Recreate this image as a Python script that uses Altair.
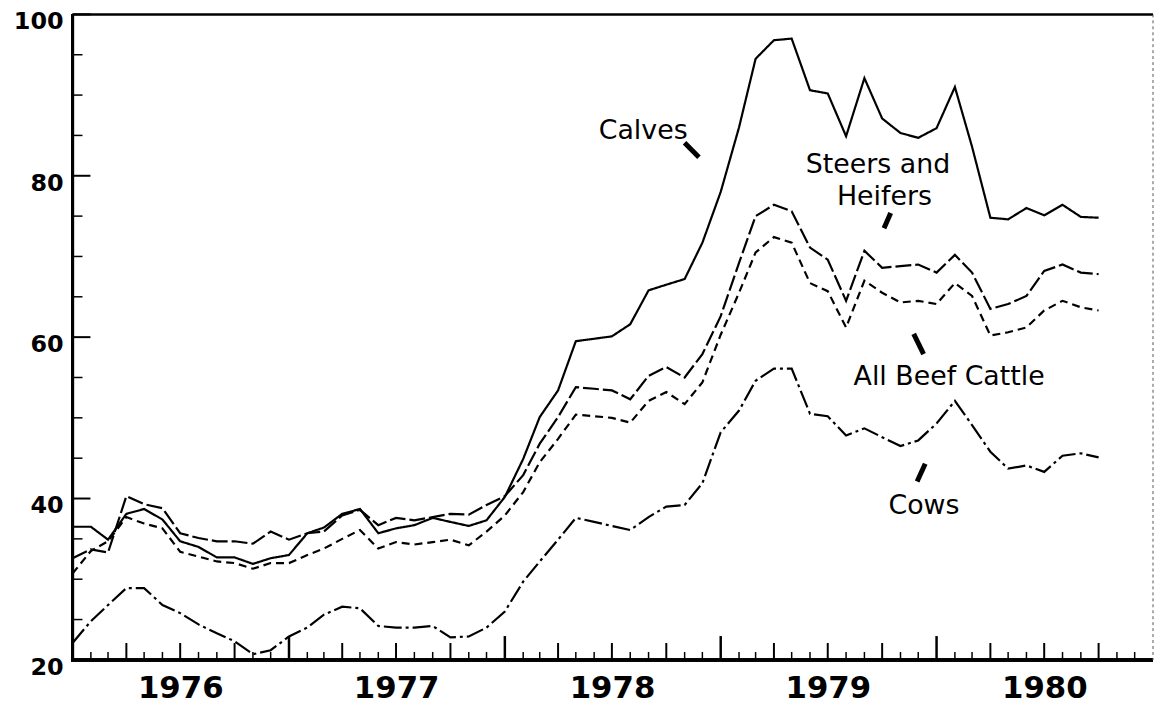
import altair as alt
import pandas as pd

# ---------------- data (monthly, Jan 1976 .. Oct 1980) ----------------
calves = [36.5, 36.5, 34.9, 38.1, 38.7, 37.4, 34.7, 34.0, 32.7, 32.7, 31.9, 32.6,
          33.0, 35.7, 36.4, 38.1, 38.7, 35.7, 36.3, 36.7, 37.6, 37.1, 36.6, 37.3,
          40.2, 44.9, 50.1, 53.4, 59.5, 59.8, 60.1, 61.6, 65.8, 66.5, 67.2, 71.7,
          78.0, 86.0, 94.5, 96.8, 97.0, 90.6, 90.2, 84.9, 92.1, 87.1, 85.3, 84.7,
          85.9, 91.0, 83.6, 74.8, 74.6, 76.0, 75.1, 76.4, 74.9, 74.8]
steers = [32.6, 33.7, 33.3, 40.3, 39.3, 38.8, 35.7, 35.1, 34.7, 34.7, 34.4, 35.9,
          34.9, 35.7, 35.9, 37.9, 38.6, 36.7, 37.6, 37.3, 37.7, 38.1, 38.0, 39.2,
          40.3, 42.9, 46.8, 50.1, 53.8, 53.6, 53.4, 52.3, 55.2, 56.3, 55.0, 57.9,
          62.6, 69.2, 75.0, 76.4, 75.6, 71.1, 69.6, 64.5, 70.7, 68.6, 68.8, 69.0,
          68.0, 70.2, 68.0, 63.5, 64.1, 65.1, 68.2, 69.0, 68.0, 67.8]
all_beef = [30.7, 33.5, 34.7, 37.7, 36.9, 36.3, 33.4, 32.8, 32.2, 32.0, 31.3, 32.0,
            32.0, 33.0, 33.8, 35.0, 36.1, 33.8, 34.6, 34.3, 34.6, 34.9, 34.2, 35.9,
            37.9, 40.8, 44.5, 47.4, 50.4, 50.2, 50.0, 49.4, 52.1, 53.2, 51.7, 54.4,
            60.3, 65.5, 70.5, 72.4, 71.7, 66.7, 65.7, 61.2, 67.0, 65.5, 64.3, 64.5,
            64.1, 66.7, 65.1, 60.2, 60.6, 61.2, 63.3, 64.5, 63.7, 63.3]
cows = [22.1, 24.8, 26.8, 28.9, 28.9, 26.8, 25.8, 24.4, 23.3, 22.3, 20.7, 21.2,
        22.9, 24.0, 25.6, 26.6, 26.4, 24.2, 24.0, 24.0, 24.2, 22.8, 22.9, 24.0,
        26.0, 29.7, 32.2, 34.9, 37.6, 37.1, 36.6, 36.1, 37.7, 39.0, 39.2, 41.9,
        48.2, 50.9, 54.6, 56.1, 56.1, 50.5, 50.2, 47.8, 48.7, 47.6, 46.5, 47.2,
        49.3, 52.1, 49.1, 45.8, 43.7, 44.1, 43.3, 45.3, 45.6, 45.1]

series_names = ["Calves", "Steers and Heifers", "All Beef Cattle", "Cows"]
series_dash = [[1, 0], [16, 4], [8, 5], [18, 4, 3, 4]]
years = [1976, 1977, 1978, 1979, 1980]
y_labels = [20, 40, 60, 80, 100]
y_minor = [25, 30, 35, 45, 50, 55, 65, 70, 75, 85, 90, 95]

# annotation labels (month index from Jan 1976, value)
ann_text = ["Calves", "Steers and", "Heifers", "All Beef Cattle", "Cows"]
ann_idx = [31.7, 44.75, 45.1, 48.7, 47.3]
ann_val = [85.5, 81.3, 77.4, 55.0, 39.1]
# pointer strokes
ptr_idx1 = [34.0, 45.45, 46.73, 47.37]
ptr_val1 = [84.1, 75.4, 60.4, 44.3]
ptr_idx2 = [34.8, 45.08, 47.28, 46.92]
ptr_val2 = [82.3, 73.5, 57.9, 42.1]

# ---------------- tables ----------------
start = pd.Timestamp("1976-01-01")
months = pd.date_range(start, periods=len(calves), freq="MS")
rows = []
for name, vals in zip(series_names, [calves, steers, all_beef, cows]):
    for d, v in zip(months, vals):
        rows.append({"date": d, "value": v, "series": name})
df = pd.DataFrame(rows)


def idx_to_date(i):
    return start + pd.Timedelta(days=i * 365.25 / 12)


ann_df = pd.DataFrame({"date": [idx_to_date(i) for i in ann_idx], "value": ann_val, "text": ann_text})
ptr_df = pd.DataFrame({
    "d1": [idx_to_date(i) for i in ptr_idx1], "v1": ptr_val1,
    "d2": [idx_to_date(i) for i in ptr_idx2], "v2": ptr_val2,
})

tick_dates = pd.date_range("1976-01-01", "1980-12-01", freq="MS")
tick_df = pd.DataFrame({"date": tick_dates})
tick_df["kind"] = ["year" if d.month == 1 else ("quarter" if d.month in (4, 7, 10) else "month")
                   for d in tick_dates]

year_df = pd.DataFrame({"date": [pd.Timestamp(year=y, month=7, day=2) for y in years],
                        "label": [str(y) for y in years]})
ylab_df = pd.DataFrame({"v": y_labels, "label": [str(v) for v in y_labels]})

W, H = 1088, 650

xscale = alt.Scale(domain=[alt.DateTime(year=1976, month=1, date=1),
                           alt.DateTime(year=1981, month=1, date=1)])
yscale = alt.Scale(domain=[20, 100], nice=False, zero=False)


def xt(field):
    return alt.X(field, type="temporal", scale=xscale, axis=None)


def yq(field):
    return alt.Y(field, type="quantitative", scale=yscale, axis=None)


lines = alt.Chart(df).mark_line(color="black", strokeWidth=2.2).encode(
    x=xt("date"),
    y=yq("value"),
    detail="series:N",
    strokeDash=alt.StrokeDash("series:N", scale=alt.Scale(domain=series_names, range=series_dash),
                              legend=None),
)

tick_layers = []
for kind, length, width in [("month", 8, 1.5), ("quarter", 17, 2), ("year", 24, 2.5)]:
    tick_layers.append(
        alt.Chart(tick_df[tick_df["kind"] == kind]).mark_rule(color="black", strokeWidth=width).encode(
            x=xt("date"), y=alt.value(H), y2=alt.value(H - length))
    )

ymaj = alt.Chart(ylab_df).mark_rule(color="black", strokeWidth=2).encode(
    y=yq("v"), x=alt.value(0), x2=alt.value(18))
ymin = alt.Chart(pd.DataFrame({"v": y_minor})).mark_rule(color="black", strokeWidth=1.5).encode(
    y=yq("v"), x=alt.value(0), x2=alt.value(10))

# frame: left and bottom axis lines, top solid line, right dotted edge
left_axis = alt.Chart(ylab_df).mark_rule(color="black", strokeWidth=3).encode(
    x=alt.value(0), y=alt.value(0), y2=alt.value(H))
bottom_axis = alt.Chart(ylab_df).mark_rule(color="black", strokeWidth=3).encode(
    y=alt.value(H), x=alt.value(-1.5), x2=alt.value(W))
top = alt.Chart(pd.DataFrame({"v": [100]})).mark_rule(color="black", strokeWidth=2.5).encode(y=yq("v"))
right = alt.Chart(pd.DataFrame({"date": [pd.Timestamp("1981-01-01")]})).mark_rule(
    color="#555555", strokeWidth=1, strokeDash=[3, 3]).encode(x=xt("date"))

# axis labels as text
ylab = alt.Chart(ylab_df).mark_text(font="DejaVu Sans", fontWeight="bold", fontSize=24, color="black",
                                    align="right", baseline="middle", dx=-9, dy=8).encode(
    y=yq("v"), x=alt.value(0), text="label:N")
xlab = alt.Chart(year_df).mark_text(font="DejaVu Sans", fontWeight="bold", fontSize=31, color="black",
                                    align="center", baseline="top", dy=14).encode(
    x=xt("date"), y=alt.value(H), text="label:N")

texts = alt.Chart(ann_df).mark_text(font="DejaVu Sans", fontSize=27, color="black",
                                    align="center", baseline="middle").encode(
    x=xt("date"), y=yq("value"), text="text:N")
ptrs = alt.Chart(ptr_df).mark_rule(color="black", strokeWidth=5).encode(
    x=xt("d1"), y=yq("v1"), x2="d2", y2="v2")

chart = alt.layer(lines, *tick_layers, ymaj, ymin, left_axis, bottom_axis, top, right,
                  ylab, xlab, texts, ptrs).properties(
    width=W, height=H,
    autosize=alt.AutoSizeParams(type="none"),
    padding={"left": 65, "top": 4, "right": 1, "bottom": 46},
    background="white",
).configure_view(stroke=None)

chart.save("out.html", embed_options={"renderer": "svg", "actions": False})
